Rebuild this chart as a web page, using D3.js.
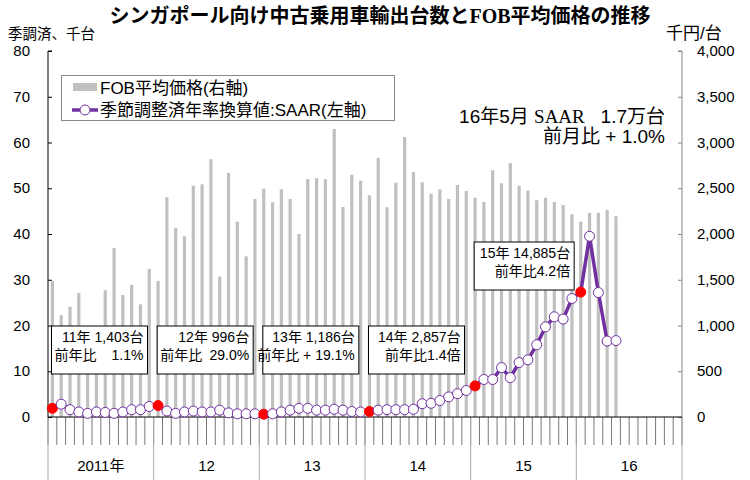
<!DOCTYPE html>
<html><head><meta charset="utf-8">
<script src="https://cdn.jsdelivr.net/npm/d3@7"></script>
<style>
body{margin:0;background:#fff;}
svg{display:block;}
text{font-family:"Liberation Sans","Noto Sans CJK JP",sans-serif;fill:#000;}
</style></head>
<body><svg id="c" width="750" height="480"></svg>
<script>
// ---- data ----
const years = ["2011年","12","13","14","15","16"];
const monthsPerYear = 12;
// FOB average price (千円/台), Jan 2011 .. May 2016
const fob = [
 1487,1112,1206,1355,900,950,1385,1847,1333,1443,1232,1618,
 1487,2401,2066,1975,2528,2543,2817,1534,2667,2135,1756,2383,
 2496,2347,2489,2383,2000,2601,2609,2598,3148,2295,2648,2583,
 2423,2831,2292,2561,3060,2678,2565,2441,2489,2383,2536,2470,
 2397,2350,2696,2554,2776,2528,2474,2369,2397,2350,2317,2216,
 2135,2230,2233,2263,2194
];
// SAAR (千台), Jan 2011 .. May 2016
const saar = [
 1.9,2.8,1.6,1.1,0.8,1.1,1.0,0.8,1.1,1.6,1.6,2.3,
 2.5,1.3,0.8,1.1,1.3,1.1,1.1,1.5,0.9,0.7,0.7,0.7,
 0.6,0.7,1.1,1.5,1.9,1.9,1.5,1.5,1.7,1.5,1.2,1.1,
 1.2,1.5,1.6,1.6,1.6,1.7,2.9,3.0,3.6,4.4,5.1,5.8,
 6.8,8.2,8.2,10.8,8.6,11.9,12.5,15.8,19.7,21.9,21.4,25.9,
 27.3,39.5,27.2,16.6,16.7
];
const leftTicks = [0,10,20,30,40,50,60,70,80];
const rightTicks = [0,500,1000,1500,2000,2500,3000,3500,4000];
const yearBoxes = [
 {i:0,  l1:"11年 1,403台", l2a:"前年比", l2b:"1.1%"},
 {i:12, l1:"12年 996台",   l2a:"前年比", l2b:"29.0%"},
 {i:24, l1:"13年 1,186台", l2a:"", l2b:"前年比 + 19.1%"},
 {i:36, l1:"14年 2,857台", l2a:"", l2b:"前年比1.4倍"},
 {i:48, l1:"15年 14,885台",l2a:"", l2b:"前年比4.2倍"}
];
const redIdx = [0,12,24,36,48,60];

// ---- layout ----
const L=48, R=682, T=51, B=417;
const svg = d3.select("#c");
const nMonths = years.length*monthsPerYear;
const x = d3.scaleBand().domain(d3.range(nMonths)).range([L,R]).padding(0);
const yL = d3.scaleLinear().domain([0,80]).range([B,T]);
const yR = d3.scaleLinear().domain([0,4000]).range([B,T]);
const cx = i => x(i)+x.bandwidth()/2;

// bars
svg.append("g").selectAll("rect").data(fob).join("rect")
  .attr("x",(d,i)=>cx(i)-1.6).attr("width",3.2)
  .attr("y",d=>yR(d)).attr("height",d=>B-yR(d))
  .attr("fill","#c0c0c0");

// month ticks below axis
const tk = svg.append("g");
tk.selectAll("line.m").data(d3.range(nMonths+1)).join("line")
  .attr("x1",i=>L+i*x.bandwidth()).attr("x2",i=>L+i*x.bandwidth())
  .attr("y1",B).attr("y2",B+28).attr("stroke","#777").attr("stroke-width",1);
tk.selectAll("line.y").data(d3.range(years.length+1)).join("line")
  .attr("x1",i=>L+i*monthsPerYear*x.bandwidth()).attr("x2",i=>L+i*monthsPerYear*x.bandwidth())
  .attr("y1",B).attr("y2",480).attr("stroke","#aaa").attr("stroke-width",1);
tk.selectAll("text").data(years).join("text")
  .attr("x",(d,i)=>L+(i+0.5)*monthsPerYear*x.bandwidth()).attr("y",471)
  .attr("text-anchor","middle").attr("font-size",15).text(d=>d);

// axes
const axL = svg.append("g").attr("transform",`translate(${L},0)`)
  .call(d3.axisRight(yL).tickValues(leftTicks).tickSize(4).tickFormat(""));
axL.select(".domain").attr("stroke","#000").attr("d",`M4,${T}H0V${B}`);
axL.selectAll(".tick line").attr("stroke","#000");
const axR = svg.append("g").attr("transform",`translate(${R},0)`)
  .call(d3.axisLeft(yR).tickValues(rightTicks).tickSize(4).tickFormat(""));
axR.select(".domain").attr("stroke","#888").attr("d",`M-4,${T}H0V${B}`);
axR.selectAll(".tick line").attr("stroke","#888");
svg.append("line").attr("x1",L).attr("x2",R).attr("y1",B).attr("y2",B).attr("stroke","#000");

svg.append("g").selectAll("text").data(leftTicks).join("text")
  .attr("x",30).attr("y",d=>yL(d)+5).attr("text-anchor","end").attr("font-size",15).text(d=>d);
svg.append("g").selectAll("text").data(rightTicks).join("text")
  .attr("x",697).attr("y",d=>yR(d)+5).attr("text-anchor","start").attr("font-size",15).text(d=>d3.format(",")(d));

// year summary boxes
yearBoxes.forEach(b=>{
  const w = b.i===48?100:96, h=48;
  const x0 = x(b.i)+3.5, y0 = b.i===48 ? 242 : 326;
  svg.append("rect").attr("x",x0).attr("y",y0).attr("width",w).attr("height",h)
    .attr("fill","#fff").attr("stroke","#000").attr("stroke-width",1);
  svg.append("text").attr("x",x0+w-4).attr("y",y0+16).attr("text-anchor","end").attr("font-size",14).text(b.l1);
  if(b.l2a) svg.append("text").attr("x",x0+3).attr("y",y0+34).attr("font-size",14).text(b.l2a);
  svg.append("text").attr("x",x0+w-4).attr("y",y0+34).attr("text-anchor","end").attr("font-size",14).text(b.l2b);
});

// SAAR line
svg.append("path").datum(saar)
  .attr("d",d3.line().x((d,i)=>cx(i)).y(d=>yL(d)))
  .attr("fill","none").attr("stroke","#7030a0").attr("stroke-width",3.5);
svg.append("g").selectAll("circle").data(saar).join("circle")
  .attr("cx",(d,i)=>cx(i)).attr("cy",d=>yL(d)).attr("r",5)
  .attr("fill",(d,i)=>redIdx.includes(i)?"#ff0000":"#fff")
  .attr("stroke",(d,i)=>redIdx.includes(i)?"#ff0000":"#7030a0").attr("stroke-width",1);

// legend
svg.append("rect").attr("x",61.5).attr("y",75.5).attr("width",333).attr("height",45)
  .attr("fill","#fff").attr("stroke","#888");
svg.append("rect").attr("x",73).attr("y",83).attr("width",24).attr("height",8).attr("fill","#c0c0c0");
svg.append("text").attr("x",100).attr("y",94).attr("font-size",17).text("FOB平均価格(右軸)");
svg.append("line").attr("x1",72).attr("x2",98).attr("y1",110).attr("y2",110).attr("stroke","#7030a0").attr("stroke-width",3.5);
svg.append("circle").attr("cx",85).attr("cy",110).attr("r",5).attr("fill","#fff").attr("stroke","#7030a0");
svg.append("text").attr("x",100).attr("y",116).attr("font-size",17).text("季節調整済年率換算値:SAAR(左軸)");

// annotation
const ann1 = svg.append("text").attr("x",665).attr("y",123).attr("text-anchor","end").attr("font-size",19);
ann1.append("tspan").text("16年5月 ");
ann1.append("tspan").attr("font-family","Liberation Serif").text("SAAR");
ann1.append("tspan").text("\u00a0\u00a0 1.7万台");
svg.append("text").attr("x",665).attr("y",143).attr("text-anchor","end").attr("font-size",19).text("前月比 + 1.0%");

// titles
const t = svg.append("text").attr("x",380).attr("y",23).attr("text-anchor","middle")
  .attr("font-size",20).attr("font-weight","bold");
t.append("tspan").attr("font-family","Noto Sans CJK JP").text("シンガポール向け中古乗用車輸出台数と");
t.append("tspan").attr("font-family","Liberation Serif").text("FOB");
t.append("tspan").attr("font-family","Noto Sans CJK JP").text("平均価格の推移");
svg.append("text").attr("x",8).attr("y",39).attr("font-size",14.5).text("季調済、千台");
svg.append("text").attr("x",666).attr("y",39).attr("font-size",17).text("千円/台");
</script></body></html>
